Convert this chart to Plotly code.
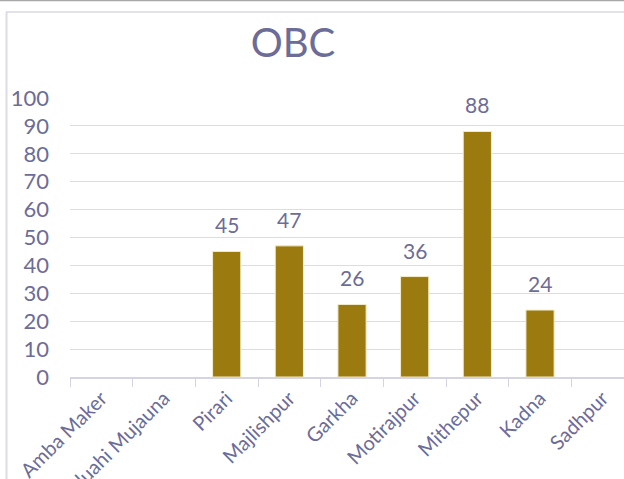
import plotly.graph_objects as go

categories = ["Amba Maker", "Bhaluahi Mujauna", "Pirari", "Majlishpur", "Garkha",
              "Motirajpur", "Mithepur", "Kadna", "Sadhpur"]
values = [None, None, 45, 47, 26, 36, 88, 24, None]
y_ticks = [0, 10, 20, 30, 40, 50, 60, 70, 80, 90, 100]
title_text = "OBC"

W, H = 624, 479
L, R, T, B = 70, 0, 98, 102
pw = W - L - R
ph = H - T - B

def px_x(p):
    return (p - L) / pw

def px_y(p):
    return (H - B - p) / ph

FONT = "Lato"
TXT = "#6c6c98"

fig = go.Figure()
fig.add_trace(go.Bar(
    x=categories, y=values,
    marker=dict(color="#9b7b0f", line=dict(color="#f3ecc8", width=1)),
    width=0.45,
    hoverinfo="skip",
))

annotations = []
for c, v in zip(categories, values):
    if v is None:
        continue
    annotations.append(dict(
        x=c, y=v, xref="x", yref="y", text=str(v), showarrow=False,
        yanchor="bottom", yshift=12,
        font=dict(family=FONT, size=21, color=TXT),
    ))

shapes = [
    dict(type="line", xref="paper", yref="paper", x0=px_x(0), x1=px_x(W),
         y0=px_y(0.5), y1=px_y(0.5), line=dict(color="#a8a8a8", width=1.5)),
    dict(type="line", xref="paper", yref="paper", x0=px_x(6), x1=px_x(W),
         y0=px_y(12), y1=px_y(12), line=dict(color="#e2e2ec", width=2)),
    dict(type="line", xref="paper", yref="paper", x0=px_x(6.5), x1=px_x(6.5),
         y0=px_y(12), y1=px_y(H), line=dict(color="#dcdce8", width=2)),
]

fig.update_layout(
    width=W, height=H,
    margin=dict(l=L, r=R, t=T, b=B, autoexpand=False),
    paper_bgcolor="white", plot_bgcolor="white",
    showlegend=False,
    title=dict(text=title_text, x=px_x(293), xref="paper", xanchor="center",
               y=1 - 43 / H, yref="container", yanchor="middle",
               font=dict(family=FONT, size=40, color=TXT)),
    xaxis=dict(
        range=[-0.5, 8.5 - 10 / 62.6],
        tickangle=-45,
        tickfont=dict(family=FONT, size=20, color=TXT),
        showgrid=False, showline=True, linecolor="#d4d4e2", linewidth=1.5,
        ticks="outside", ticklen=8, tickcolor="#d4d4e2", tickson="boundaries",
        automargin=False, fixedrange=True,
    ),
    yaxis=dict(
        range=[0, 100], tickvals=y_ticks,
        tickfont=dict(family=FONT, size=22, color=TXT),
        showgrid=True, gridcolor="#dcdce6", gridwidth=1,
        zeroline=False, showline=False, ticks="", ticklabelstandoff=20,
        automargin=False, fixedrange=True,
    ),
    annotations=annotations,
    shapes=shapes,
)

fig.write_html("out.html", config={"displayModeBar": False},
               post_script="document.body.style.margin='0';")
